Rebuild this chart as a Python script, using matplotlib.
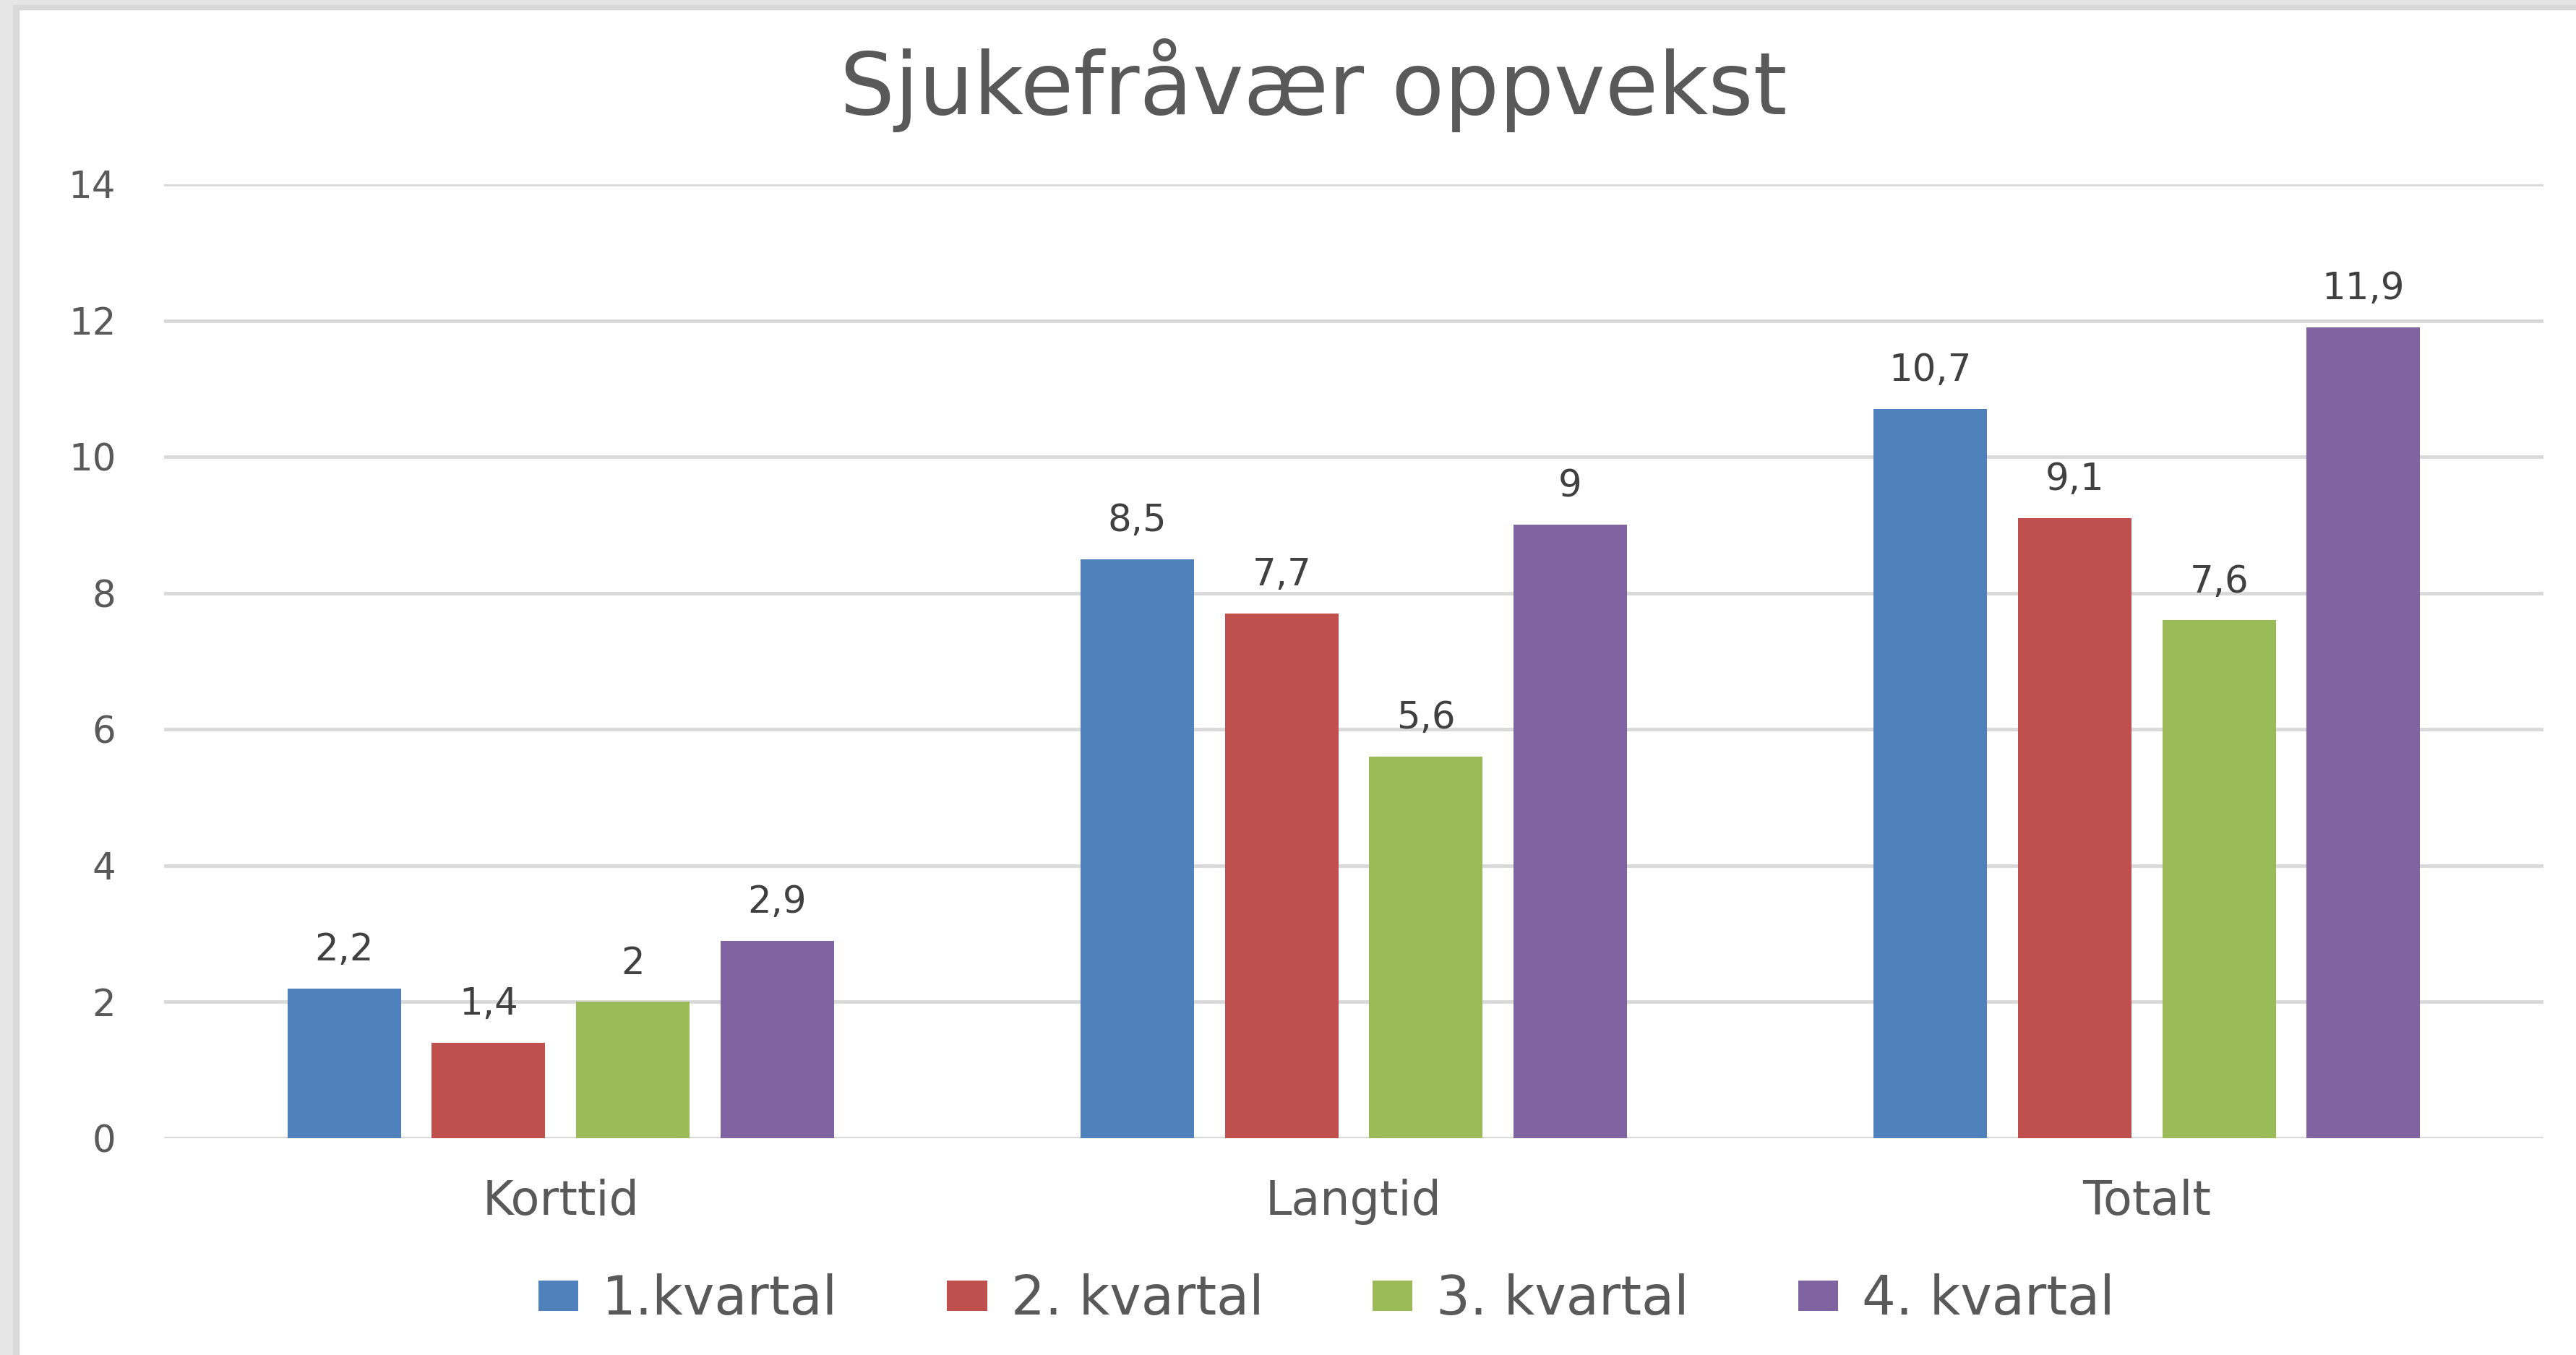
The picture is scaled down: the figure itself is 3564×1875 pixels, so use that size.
import numpy as np
import matplotlib
matplotlib.use("Agg")
import matplotlib.pyplot as plt
from matplotlib.patches import Rectangle

categories = ["Korttid", "Langtid", "Totalt"]
series_names = ["1.kvartal", "2. kvartal", "3. kvartal", "4. kvartal"]
q1 = [2.2, 8.5, 10.7]
q2 = [1.4, 7.7, 9.1]
q3 = [2.0, 5.6, 7.6]
q4 = [2.9, 9.0, 11.9]
colors = ["#4F81BD", "#C0504D", "#9BBB59", "#8064A2"]

txt = "#595959"
plt.rcParams["font.family"] = ["DejaVu Sans"]

W, H = 3564, 1875
fig = plt.figure(figsize=(W / 100, H / 100), dpi=100)
fig.patch.set_facecolor("white")

# grey screenshot frame top/left
fig.patches.append(Rectangle((0, 0), 26 / W, 1, transform=fig.transFigure, color="#E6E6E6", zorder=0))
fig.patches.append(Rectangle((18 / W, 0), 8 / W, 1 - 7 / H, transform=fig.transFigure, color="#D9D9D9", zorder=0))
fig.patches.append(Rectangle((0, 1 - 13 / H), 1, 13 / H, transform=fig.transFigure, color="#E6E6E6", zorder=0))
fig.patches.append(Rectangle((18 / W, 1 - 13 / H), 1, 6 / H, transform=fig.transFigure, color="#D9D9D9", zorder=0))

ax = fig.add_axes([227 / W, 300 / H, (3519 - 227) / W, (1575 - 255) / H])
ax.set_facecolor("none")

x = np.arange(len(categories))
width = 0.143
step = 0.182
data = [q1, q2, q3, q4]
for i, (vals, name, c) in enumerate(zip(data, series_names, colors)):
    offs = (i - 1.5) * step
    bars = ax.bar(x + offs, vals, width, color=c, label=name, zorder=3)
    for b, v in zip(bars, vals):
        lab = f"{v:g}".replace(".", ",")
        ax.annotate(lab, (b.get_x() + b.get_width() / 2, v), xytext=(0, 20),
                    textcoords="offset points", ha="center", va="bottom",
                    fontsize=37, color="#404040")

ax.set_xlim(-0.5, 2.5)
ax.set_ylim(0, 14)
ax.set_yticks(range(0, 15, 2))
ax.set_xticks(x)
ax.set_xticklabels(categories)
ax.yaxis.grid(True, color="#D9D9D9", linewidth=3.5, zorder=0)
ax.set_axisbelow(True)
for s in ax.spines.values():
    s.set_visible(False)
ax.tick_params(axis="y", length=0, pad=48, labelsize=37, labelcolor=txt)
ax.tick_params(axis="x", length=0, pad=40, labelsize=47, labelcolor=txt)

fig.text(0.510, 1 - 118 / H, "Sjukefråvær oppvekst", ha="center", va="center",
         fontsize=86, color=txt)

leg = fig.legend(loc="center", bbox_to_anchor=(0.515, 76 / H), ncol=4, frameon=False,
                 fontsize=53, handlelength=0.75, handleheight=0.5, handletextpad=0.45,
                 columnspacing=2.05)
for t in leg.get_texts():
    t.set_color(txt)

fig.savefig("out.png", dpi=100, facecolor=fig.get_facecolor())
